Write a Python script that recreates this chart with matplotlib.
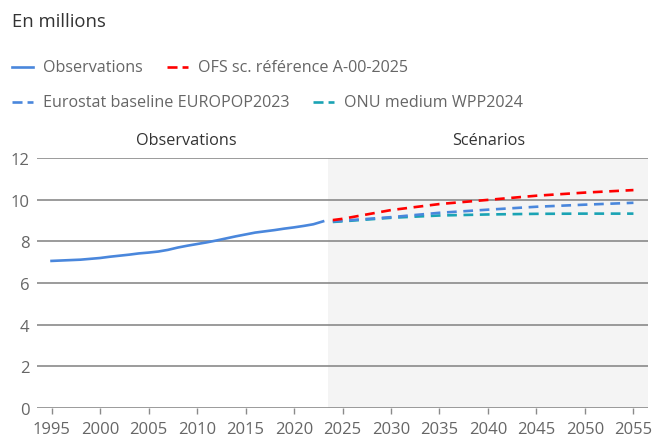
import matplotlib.pyplot as plt
from matplotlib.lines import Line2D

plt.rcParams['font.family'] = ['Open Sans', 'DejaVu Sans']

# observed population, millions
obsYears = [1995, 1996, 1997, 1998, 1999, 2000, 2001, 2002, 2003, 2004, 2005, 2006,
            2007, 2008, 2009, 2010, 2011, 2012, 2013, 2014, 2015, 2016, 2017, 2018,
            2019, 2020, 2021, 2022, 2023]
obsValues = [7.06, 7.08, 7.10, 7.12, 7.16, 7.20, 7.26, 7.31, 7.36, 7.42, 7.46, 7.51,
             7.59, 7.70, 7.79, 7.87, 7.95, 8.04, 8.14, 8.24, 8.33, 8.42, 8.48, 8.54,
             8.61, 8.67, 8.74, 8.82, 8.96]

# scenarios
scenYears = [2024, 2025, 2030, 2035, 2040, 2045, 2050, 2055]
ofsValues = [9.02, 9.08, 9.50, 9.79, 9.99, 10.19, 10.34, 10.46]
eurostatValues = [8.96, 8.99, 9.16, 9.37, 9.52, 9.66, 9.76, 9.85]
onuValues = [8.93, 8.96, 9.13, 9.24, 9.29, 9.32, 9.33, 9.33]

xTicks = [1995, 2000, 2005, 2010, 2015, 2020, 2025, 2030, 2035, 2040, 2045, 2050, 2055]
yTicks = [0, 2, 4, 6, 8, 10, 12]

blue = '#4a87dc'
red = '#ff0000'
teal = '#1aa3b4'
gridCol = '#8a8a8a'
textCol = '#666666'
dash = (3.7, 2.5)

fig = plt.figure(figsize=(6.54, 4.39), dpi=100)
ax = fig.add_axes([37 / 654, 1 - 409 / 439, (648 - 37) / 654, 250 / 439])

ax.axvspan(2023.5, 2056.5, color='#f4f4f4', zorder=0, lw=0)

ax.plot(obsYears, obsValues, color=blue, lw=1.9, zorder=3)
ax.plot(scenYears, onuValues, color=teal, lw=1.9, dashes=dash, zorder=3)
ax.plot(scenYears, eurostatValues, color=blue, lw=1.9, dashes=dash, zorder=4)
ax.plot(scenYears, ofsValues, color=red, lw=1.9, dashes=dash, zorder=5)

ax.set_xlim(1993.5, 2056.5)
ax.set_ylim(0, 12)
ax.set_xticks(xTicks)
ax.set_yticks(yTicks)
ax.yaxis.grid(True, color=gridCol, lw=1.2)
ax.set_axisbelow(True)
for s in ax.spines.values():
    s.set_visible(False)
ax.tick_params(axis='y', length=0, pad=5.4, labelsize=12, labelcolor=textCol)
ax.tick_params(axis='x', length=4.5, width=1, color=gridCol, pad=5, labelsize=12, labelcolor=textCol)

# section labels
fig.text(186 / 654, 1 - 141 / 439, 'Observations', ha='center', va='center', fontsize=11.7, color='#333333')
fig.text(489 / 654, 1 - 141 / 439, 'Scénarios', ha='center', va='center', fontsize=11.7, color='#333333')

fig.text(12 / 654, 1 - 22 / 439, 'En millions', ha='left', va='center', fontsize=13.3, color='#333333')

# legend drawn by hand (items flow, not columns)
items = [(12, 68, blue, None, 'Observations'),
         (167, 68, red, dash, 'OFS sc. référence A-00-2025'),
         (12, 103, blue, dash, 'Eurostat baseline EUROPOP2023'),
         (313, 103, teal, dash, 'ONU medium WPP2024')]
for x0, y0, col, d, label in items:
    yf = 1 - y0 / 439
    ln = Line2D([x0 / 654, (x0 + 21) / 654], [yf, yf], transform=fig.transFigure, color=col, lw=1.9)
    if d is not None:
        ln.set_dashes((3.8, 1.9))
    fig.add_artist(ln)
    fig.text((x0 + 31) / 654, yf, label, ha='left', va='center', fontsize=11.6, color=textCol)

plt.savefig('out.png', dpi=100)
